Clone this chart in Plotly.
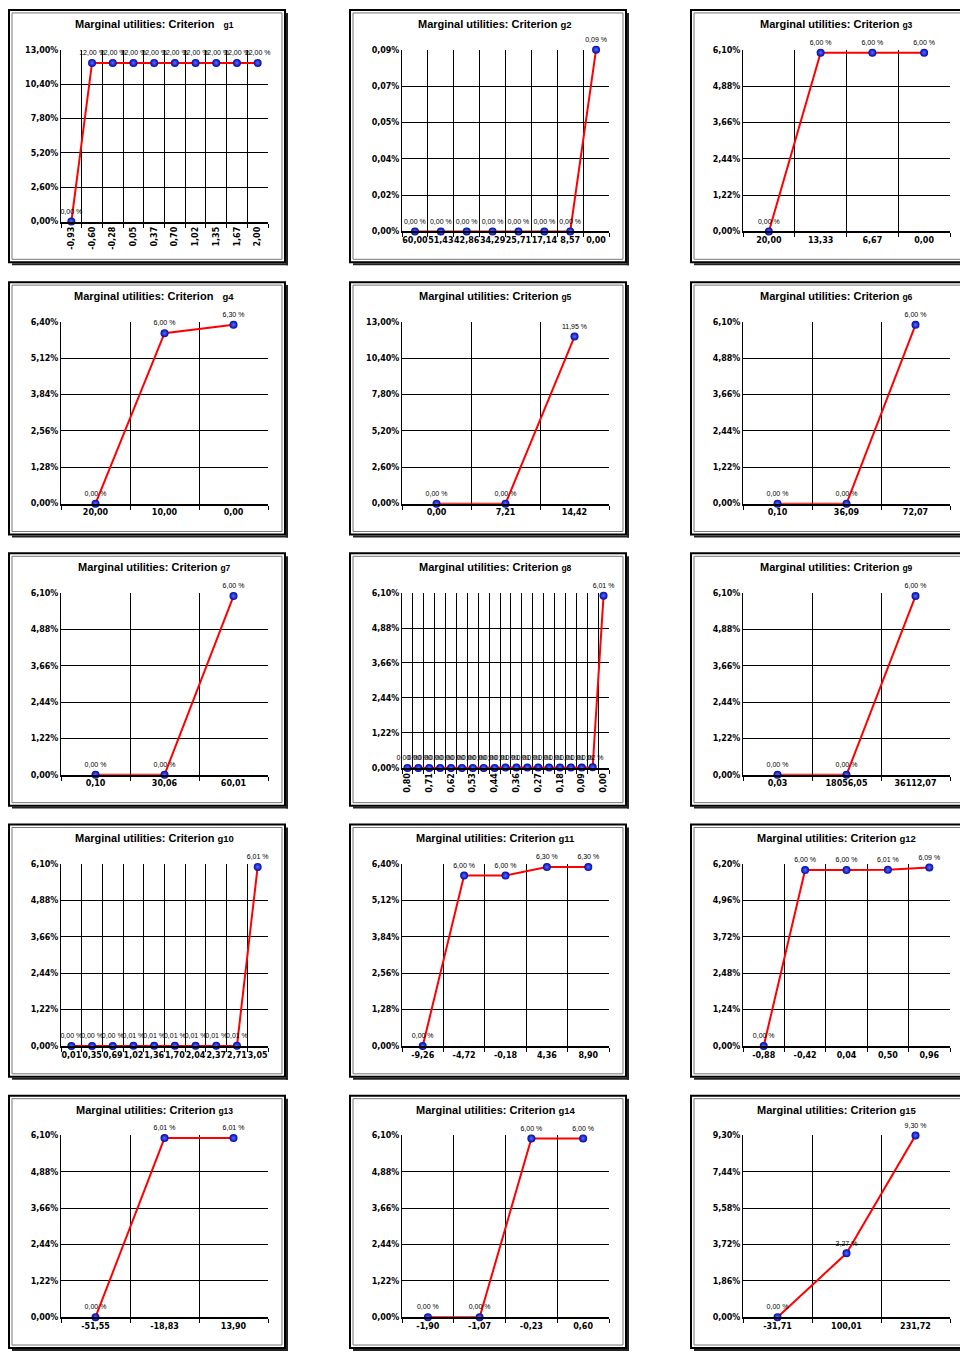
import plotly.graph_objects as go

W, H = 960, 1354

# ---- data: criterion break points (x) and marginal utilities in % (y) ----
x_g1 = ["-0,93", "-0,60", "-0,28", "0,05", "0,37", "0,70", "1,02", "1,35", "1,67", "2,00"]
y_g1 = [0.00, 12.00, 12.00, 12.00, 12.00, 12.00, 12.00, 12.00, 12.00, 12.00]

x_g2 = ["60,00", "51,43", "42,86", "34,29", "25,71", "17,14", "8,57", "0,00"]
y_g2 = [0.00, 0.00, 0.00, 0.00, 0.00, 0.00, 0.00, 0.09]

x_g3 = ["20,00", "13,33", "6,67", "0,00"]
y_g3 = [0.00, 6.00, 6.00, 6.00]

x_g4 = ["20,00", "10,00", "0,00"]
y_g4 = [0.00, 6.00, 6.30]

x_g5 = ["0,00", "7,21", "14,42"]
y_g5 = [0.00, 0.00, 11.95]

x_g6 = ["0,10", "36,09", "72,07"]
y_g6 = [0.00, 0.00, 6.00]

x_g7 = ["0,10", "30,06", "60,01"]
y_g7 = [0.00, 0.00, 6.00]

x_g8 = ["0,80", "0,76", "0,71", "0,67", "0,62", "0,58", "0,53", "0,49", "0,44", "0,40",
        "0,36", "0,31", "0,27", "0,22", "0,18", "0,13", "0,09", "0,04", "0,00"]
y_g8 = [0.00, 0.00, 0.00, 0.00, 0.00, 0.00, 0.00, 0.00, 0.00, 0.01,
        0.01, 0.01, 0.01, 0.01, 0.01, 0.01, 0.01, 0.02, 6.01]

x_g9 = ["0,03", "18056,05", "36112,07"]
y_g9 = [0.00, 0.00, 6.00]

x_g10 = ["0,01", "0,35", "0,69", "1,02", "1,36", "1,70", "2,04", "2,37", "2,71", "3,05"]
y_g10 = [0.00, 0.00, 0.00, 0.01, 0.01, 0.01, 0.01, 0.01, 0.01, 6.01]

x_g11 = ["-9,26", "-4,72", "-0,18", "4,36", "8,90"]
y_g11 = [0.00, 6.00, 6.00, 6.30, 6.30]

x_g12 = ["-0,88", "-0,42", "0,04", "0,50", "0,96"]
y_g12 = [0.00, 6.00, 6.00, 6.01, 6.09]

x_g13 = ["-51,55", "-18,83", "13,90"]
y_g13 = [0.00, 6.01, 6.01]

x_g14 = ["-1,90", "-1,07", "-0,23", "0,60"]
y_g14 = [0.00, 0.00, 6.00, 6.00]

x_g15 = ["-31,71", "100,01", "231,72"]
y_g15 = [0.00, 3.27, 9.30]

# upper bound of each utility axis (%)
y_max = [13.00, 0.09, 6.10, 6.40, 13.00, 6.10, 6.10, 6.10, 6.10, 6.10, 6.40, 6.20, 6.10, 6.10, 9.30]

criteria = ["g1", "g2", "g3", "g4", "g5", "g6", "g7", "g8", "g9", "g10",
            "g11", "g12", "g13", "g14", "g15"]
xs = [x_g1, x_g2, x_g3, x_g4, x_g5, x_g6, x_g7, x_g8, x_g9, x_g10, x_g11, x_g12, x_g13, x_g14, x_g15]
ys = [y_g1, y_g2, y_g3, y_g4, y_g5, y_g6, y_g7, y_g8, y_g9, y_g10, y_g11, y_g12, y_g13, y_g14, y_g15]

# ---- panel geometry (pixels) ----
col_left = [8, 349, 690]
row_top = [5, 279, 552, 825, 1098]
FRAME_W, FRAME_H = 280, 258
PLOT_L, PLOT_R, PLOT_T = 53, 260, 41
rotated = {"g1": 214, "g8": 217}   # panels with vertical tick labels
PLOT_B = 224
sparse_labels = {"g8"}             # only every second break point is labelled

TITLE_FONT = "Liberation Sans, Arial, sans-serif"
TICK_FONT = "DejaVu Sans, Verdana, sans-serif"

# size of the criterion name in each title
larger_tag = {"g2", "g4", "g11", "g14", "g15", "g10", "g12"}
wide_gap = {"g1", "g4"}


def px(x):
    return x / W


def py(y):
    return 1 - y / H


def pct(v):
    return f"{v:.2f}".replace(".", ",")


def criterion_tag(name):
    gap = "&nbsp;&nbsp;&nbsp;" if name in wide_gap else " "
    size = 9.5 if name in larger_tag else 8.5
    return gap + f"<span style='font-size:{size}px'>{name}</span>"


fig = go.Figure()
shapes = []
annotations = []

for i, name in enumerate(criteria):
    r, c = divmod(i, 3)
    fx, fy = col_left[c], row_top[r]
    bottom = rotated.get(name, PLOT_B)
    ax = "" if i == 0 else str(i + 1)

    x_vals, y_vals = xs[i], ys[i]
    labels = [pct(v) + " %" for v in y_vals]
    n = len(x_vals)
    pos = list(range(n))   # ordinal position of each break point

    fig.add_trace(go.Scatter(
        x=pos if name in sparse_labels else x_vals, y=y_vals,
        mode="lines+markers+text",
        xaxis="x" + ax, yaxis="y" + ax,
        line=dict(color="#ff0000", width=2),
        marker=dict(size=8, color="#0008a8",
                    gradient=dict(type="radial", color="#5a6cff"),
                    line=dict(width=0)),
        text=labels, textposition="top center",
        textfont=dict(family="Liberation Sans, Arial, sans-serif", size=7, color="#000"),
        cliponaxis=False, showlegend=False, hoverinfo="skip",
    ))

    xfont = dict(family=TICK_FONT, size=8, color="#000", weight="bold")
    common_x = dict(
        domain=[px(fx + PLOT_L), px(fx + PLOT_R)],
        anchor="y" + ax,
        tickangle=-90 if name in rotated else 0,
        tickfont=xfont,
        showline=True, linecolor="#000", linewidth=2,
        zeroline=False, fixedrange=True,
    )
    if name in sparse_labels:
        # numeric positions: labels on every other point, grid on every boundary
        xaxis = dict(
            common_x, type="linear", range=[-0.5, n - 0.5],
            tickmode="array", tickvals=pos[::2], ticktext=x_vals[::2],
            ticks="", showgrid=False,
            minor=dict(tickmode="linear", tick0=-0.5, dtick=1,
                       ticks="outside", ticklen=4, tickcolor="#000", tickwidth=1,
                       showgrid=True, gridcolor="#000", gridwidth=1),
        )
    else:
        xaxis = dict(
            common_x, type="category",
            categoryorder="array", categoryarray=x_vals,
            range=[-0.5, n - 0.5],
            tickmode="array", tickvals=x_vals, ticktext=x_vals,
            tickson="boundaries", ticks="outside", ticklen=4,
            tickcolor="#000", tickwidth=1,
            showgrid=True, gridcolor="#000", gridwidth=1,
        )
    fig.layout["xaxis" + ax] = xaxis

    ytv = [y_max[i] * k / 5 for k in range(6)]
    ytt = [pct(v) + "%" for v in ytv]
    fig.layout["yaxis" + ax] = dict(
        domain=[py(fy + bottom), py(fy + PLOT_T)],
        anchor="x" + ax, range=[0, y_max[i]],
        tickmode="array", tickvals=ytv, ticktext=ytt,
        ticks="", tickfont=dict(family=TICK_FONT, size=8, color="#000", weight="bold"),
        showgrid=True, gridcolor="#000", gridwidth=1,
        showline=True, linecolor="#000", linewidth=1,
        zeroline=False, fixedrange=True,
    )

    annotations.append(dict(
        xref="paper", yref="paper",
        x=px(fx + FRAME_W / 2 + 6), y=py(fy + 15),
        xanchor="center", yanchor="middle", showarrow=False,
        text="<b>Marginal utilities: Criterion" + criterion_tag(name) + "</b>",
        font=dict(family=TITLE_FONT, size=11, color="#000"),
    ))

    # chart frame with a dark shadow on the right and bottom edges
    shapes.append(dict(type="rect", xref="paper", yref="paper",
                       x0=px(fx + 1), x1=px(fx + FRAME_W - 3),
                       y0=py(fy + FRAME_H - 3), y1=py(fy + 1),
                       line=dict(color="#000", width=2)))
    shapes.append(dict(type="rect", xref="paper", yref="paper",
                       x0=px(fx + 4), x1=px(fx + FRAME_W - 6),
                       y0=py(fy + FRAME_H - 6), y1=py(fy + 4),
                       line=dict(color="#777", width=1)))
    shapes.append(dict(type="line", xref="paper", yref="paper",
                       x0=px(fx + FRAME_W - 1), x1=px(fx + FRAME_W - 1),
                       y0=py(fy + 4), y1=py(fy + FRAME_H),
                       line=dict(color="#222", width=2)))
    shapes.append(dict(type="line", xref="paper", yref="paper",
                       x0=px(fx + 4), x1=px(fx + FRAME_W),
                       y0=py(fy + FRAME_H - 1), y1=py(fy + FRAME_H - 1),
                       line=dict(color="#222", width=2)))

fig.update_layout(
    width=W, height=H,
    margin=dict(l=0, r=0, t=0, b=0),
    paper_bgcolor="#ffffff", plot_bgcolor="#ffffff",
    shapes=shapes, annotations=annotations,
    showlegend=False,
)

fig.write_html("out.html")
